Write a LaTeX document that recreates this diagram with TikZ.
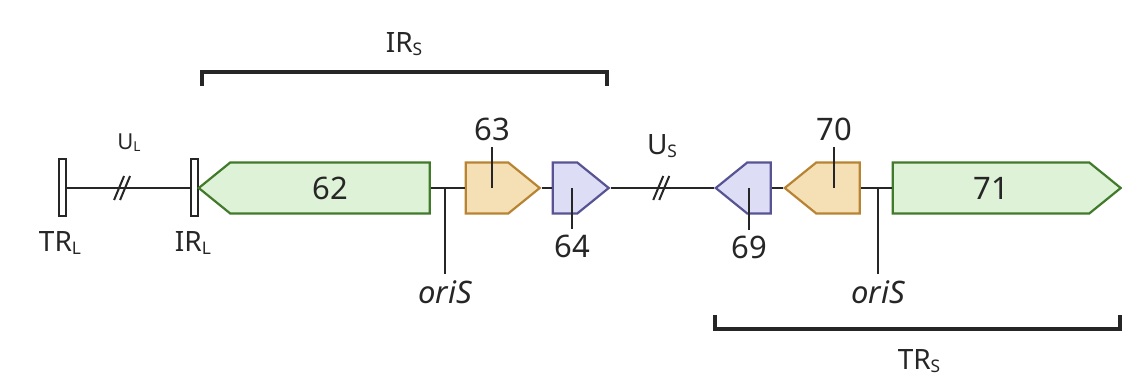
\documentclass[tikz,border=0pt]{standalone}
\usepackage{fontspec}
\usepackage{graphicx}
\setmainfont{Noto Sans}
\usetikzlibrary{shapes.symbols,calc}

\definecolor{lineGray}{RGB}{38,38,38}
\definecolor{greenFill}{RGB}{222,242,216}
\definecolor{greenEdge}{RGB}{64,122,42}
\definecolor{orangeFill}{RGB}{244,224,180}
\definecolor{orangeEdge}{RGB}{184,132,52}
\definecolor{purpleFill}{RGB}{221,221,245}
\definecolor{purpleEdge}{RGB}{88,84,148}

\newcommand{\genefont}{\fontsize{31}{34}\selectfont}
\newcommand{\smallfont}{\fontsize{22}{26}\selectfont}
\newcommand{\midfont}{\fontsize{28}{30}\selectfont}
\newcommand{\regsub}[1]{\raisebox{-0.08em}{\scalebox{0.62}{#1}}}

\begin{document}
\begin{tikzpicture}
[x=1pt,y=-1pt,
  backbone/.style={-,line width=2.6pt,color=lineGray},%
  tickLine/.style={-,line width=2pt,color=lineGray},%
  bracketLine/.style={-,line width=3.2pt,color=lineGray},%
  barDecorate/.style={shape=rectangle,draw=lineGray,fill=white,line width=2pt,inner sep=0pt,minimum width=7pt,minimum height=57pt},%
  geneDecorate/.style={shape=signal,signal from=nowhere,signal pointer angle=78,line width=2.2pt,inner sep=0pt,minimum height=51pt,font=\genefont,text=lineGray},%
  greenGene/.style={draw=greenEdge,fill=greenFill},%
  orangeGene/.style={draw=orangeEdge,fill=orangeFill},%
  purpleGene/.style={draw=purpleEdge,fill=purpleFill},%
  tickLabel/.style={font=\genefont,text=lineGray,inner sep=5pt}]
\useasboundingbox (0,0) rectangle (1122,379);
%% terminal bars
\node (trl) at (62,188) [barDecorate] {};
\node (irl) at (194,188) [barDecorate] {};
%% genes
\foreach \genename/\x/\len/\dir/\kind/\txt in {62/330/231/west/greenGene/62, 63/487/74/east/orangeGene/{}, 64/565/56/east/purpleGene/{}, 69/759/55/west/purpleGene/{}, 70/838/75/west/orangeGene/{}, 71/991/228/east/greenGene/71}
{
  \node (g\genename) at (\x,188) [geneDecorate,\kind,minimum width=\len,signal to=\dir] {\txt};
}
%% backbone
\draw[backbone] (trl.east) -- coordinate[pos=0.46] (ul) (irl.west);
\draw[backbone] (g62.east) -- (g63.west);
\draw[backbone] (g63.east) -- (g64.west);
\draw[backbone] (g64.east) -- coordinate[pos=0.5] (us) (g69.west);
\draw[backbone] (g69.east) -- (g70.west);
\draw[backbone] (g70.east) -- (g71.west);
%% unique region breaks
\foreach \brk in {ul, us}
{
  \draw[tickLine] ($(\brk)+(-9,12)$) -- ++(10,-24);
  \draw[tickLine] ($(\brk)+(-3,12)$) -- ++(10,-24);
}
%% gene labels on ticks
\foreach \tname/\x/\dy/\anc in {63/492/-41/south, 64/572/41/north, 69/749/42/north, 70/834/-41/south}
{
  \coordinate (t\tname) at (\x,188);
  \draw[tickLine] (t\tname) -- ++(0,\dy) node[tickLabel,anchor=\anc] {\tname};
}
%% origins
\foreach \oname/\x in {oriA/445, oriB/878}
{
  \coordinate (\oname) at (\x,188);
  \draw[tickLine] (\oname) -- ++(0,86) node[tickLabel,anchor=north,inner sep=6pt] {\itshape oriS};
}
%% region labels
\node (lul) at (129,150) [anchor=base,font=\smallfont,text=lineGray] {U\regsub{L}};
\node (lus) at (662,155) [anchor=base,font=\midfont,text=lineGray] {U\regsub{S}};
\node (ltrl) at (60,252) [anchor=base,font=\midfont,text=lineGray] {TR\regsub{L}};
\node (lirl) at (193,252) [anchor=base,font=\midfont,text=lineGray] {IR\regsub{L}};
\node (lirs) at (404,53) [anchor=base,font=\midfont,text=lineGray] {IR\regsub{S}};
\node (ltrs) at (919,370) [anchor=base,font=\midfont,text=lineGray] {TR\regsub{S}};
%% brackets
\coordinate (irsA) at (202,86);
\coordinate (irsB) at (607,86);
\coordinate (trsA) at (715,315);
\coordinate (trsB) at (1120,315);
\draw[bracketLine] (irsA) -- ++(0,-14) -| (irsB);
\draw[bracketLine] (trsA) -- ++(0,14) -| (trsB);
\end{tikzpicture}
\end{document}
